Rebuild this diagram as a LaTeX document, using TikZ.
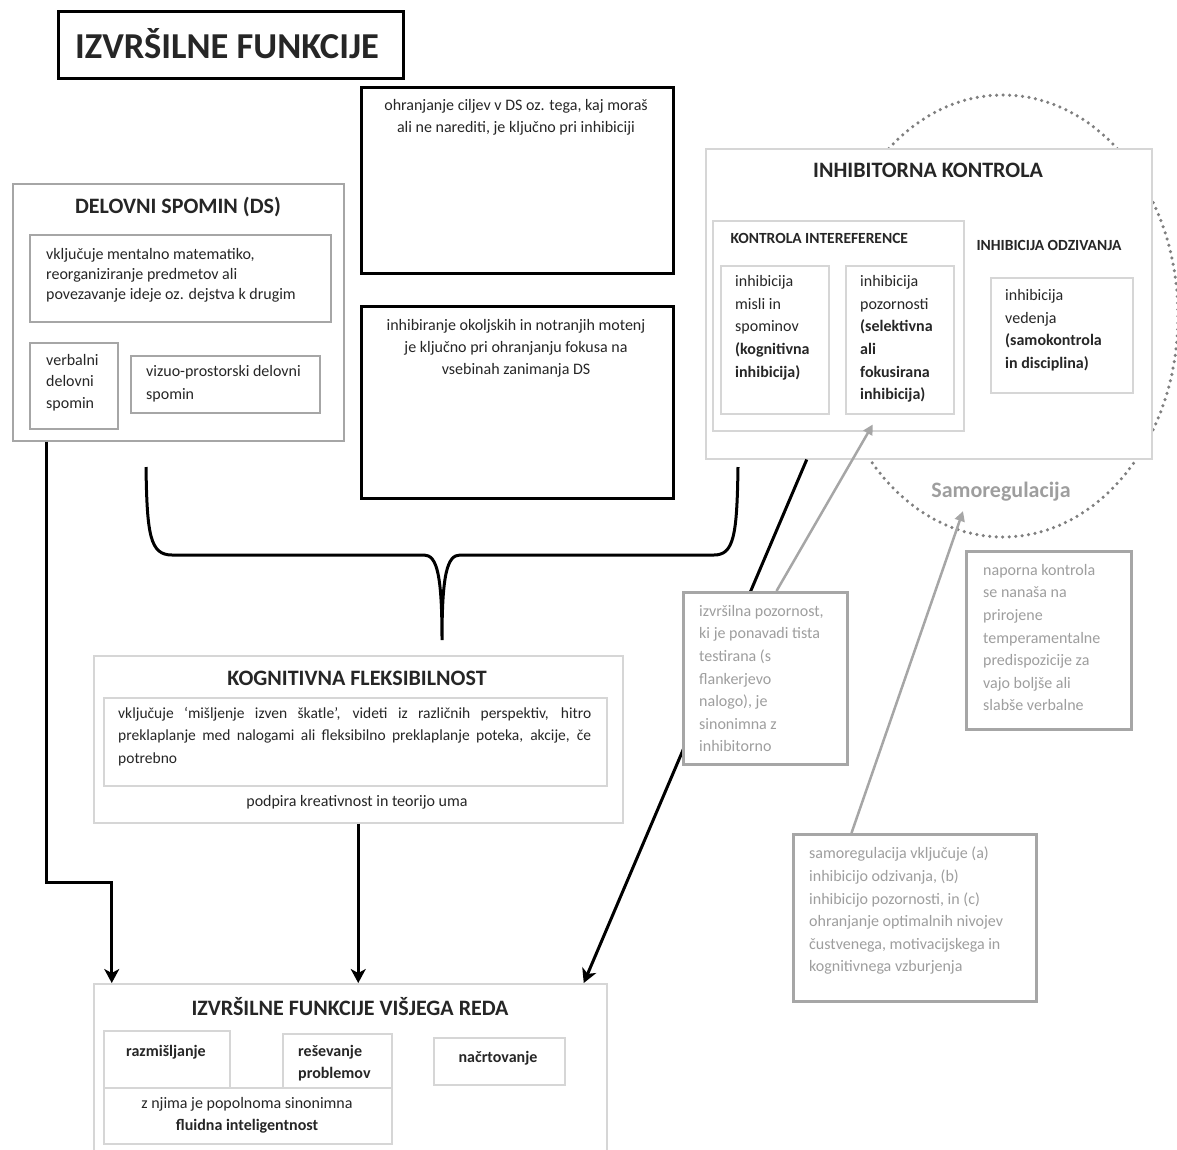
\documentclass[tikz,border=0pt]{standalone}
\usepackage{fontspec}
\setmainfont{Carlito}
\usetikzlibrary{arrows.meta,positioning,calc}

\definecolor{ink}{HTML}{262626}
\definecolor{faint}{HTML}{D6D6D6}
\definecolor{mid}{HTML}{A6A6A6}
\definecolor{note}{HTML}{9E9E9E}
\definecolor{dotgrey}{HTML}{7F7F7F}

\newcommand{\fsz}[2]{\fontsize{#1}{#2}\selectfont}

\tikzset{
  frame/.style={draw=black,line width=3pt,fill=white,inner sep=0pt,anchor=north west},
  pale/.style={draw=faint,line width=1.5pt,fill=white,inner sep=0pt,anchor=north west},
  grey/.style={draw=mid,line width=1.5pt,fill=white,inner sep=0pt,anchor=north west},
  notebox/.style={draw=mid,line width=3pt,fill=white,inner sep=0pt,anchor=north west},
  heading/.style={font=\bfseries\fsz{22}{26},text=ink},
  subheading/.style={font=\bfseries\fsz{15.5}{18},text=ink},
  txt/.style={inner sep=0pt,anchor=north west,align=left,text=ink,font=\fsz{16}{22}},
  flow/.style={-{Stealth[length=14pt,width=15pt,inset=4pt]},line width=3pt},
  greyflow/.style={-{Triangle[length=10pt,width=10pt]},line width=2.5pt,draw=mid},
  dots/.style={draw=dotgrey,line width=3.5pt,line cap=round,dash pattern=on 0pt off 6.5pt}
}

\begin{document}
\begin{tikzpicture}[x=1pt,y=-1pt]
\useasboundingbox (0,0) rectangle (1177,1149);

% Samoregulacija
\draw[dots] (1003,316) ellipse (175pt and 221pt);
\node[font=\bfseries\fsz{22}{26},text=note] (sr) at (1001,492) {Samoregulacija};

% Inhibitorna kontrola
\node[pale,minimum width=446,minimum height=310] (ik) at (705,148) {};
\node[heading] (ik-naslov) at (928,170) {INHIBITORNA KONTROLA};

\node[pale,minimum width=251,minimum height=210] (ki) at (712,220) {};
\node[subheading,anchor=west] (ki-naslov) at (727,238) {KONTROLA INTEREFERENCE};
\node[pale,minimum width=108,minimum height=148] (ki-misli) at (720,265) {};
\node[txt,font=\fsz{16}{22.7}] (ki-misli-t) at (735,275)
  {inhibicija\\misli in\\spominov\\\textbf{(kognitivna}\\\textbf{inhibicija)}};
\node[pale,minimum width=108,minimum height=148] (ki-poz) at (845,265) {};
\node[txt,font=\fsz{16}{22.7}] (ki-poz-t) at (860,275)
  {inhibicija\\pozornosti\\\textbf{(selektivna}\\\textbf{ali}\\\textbf{fokusirana}\\\textbf{inhibicija)}};

\node[subheading] (io-naslov) at (1049,245) {INHIBICIJA ODZIVANJA};
\node[pale,minimum width=142,minimum height=115] (io) at (990,277) {};
\node[txt,font=\fsz{16}{22.7}] (io-t) at (1005,289)
  {inhibicija\\vedenja\\\textbf{(samokontrola}\\\textbf{in disciplina)}};

% Naslov
\node[frame,minimum width=345,minimum height=67] (naslov) at (57,10) {};
\node[font=\bfseries\fsz{36.5}{40},text=ink] (naslov-t) at (227,44) {IZVRŠILNE FUNKCIJE};

% Delovni spomin
\node[grey,minimum width=331,minimum height=257] (ds) at (12,183) {};
\node[heading] (ds-naslov) at (178,207) {DELOVNI SPOMIN (DS)};
\node[grey,minimum width=301,minimum height=87] (ds-mat) at (29,234) {};
\node[txt,font=\fsz{16}{20}] (ds-mat-t) at (46,248)
  {vključuje mentalno matematiko,\\reorganiziranje predmetov ali\\povezavanje ideje oz. dejstva k drugim};
\node[grey,minimum width=88,minimum height=86] (ds-verb) at (29,342) {};
\node[txt,font=\fsz{16}{21.5}] (ds-verb-t) at (46,354) {verbalni\\delovni\\spomin};
\node[grey,minimum width=189,minimum height=57] (ds-viz) at (130,355) {};
\node[txt,font=\fsz{16}{23}] (ds-viz-t) at (146,365) {vizuo-prostorski delovni\\spomin};

% DS in inhibicija
\node[frame,minimum width=312,minimum height=186] (cilji) at (360,86) {};
\node[txt,align=center,anchor=north] (cilji-t) at (516,99)
  {ohranjanje ciljev v DS oz. tega, kaj moraš\\ali ne narediti, je ključno pri inhibiciji};
\node[frame,minimum width=312,minimum height=192] (motnje) at (360,305) {};
\node[txt,align=center,anchor=north] (motnje-t) at (516,319)
  {inhibiranje okoljskih in notranjih motenj\\je ključno pri ohranjanju fokusa na\\vsebinah zanimanja DS};

% zaviti oklepaj
\draw[line width=3pt] (146,467) .. controls (147,535) and (150,555) .. (172,555) -- (424,555)
  .. controls (437,555) and (442,575) .. (442,640)
  .. controls (442,575) and (447,555) .. (460,555) -- (714,555)
  .. controls (734,555) and (737,535) .. (738,467);

% Kognitivna fleksibilnost
\node[pale,minimum width=529,minimum height=167] (kf) at (93,655) {};
\node[heading] (kf-naslov) at (357,678) {KOGNITIVNA FLEKSIBILNOST};
\node[pale,minimum width=503,minimum height=88] (kf-opis) at (103,697) {};
\node[txt,text width=473,align=justify,font=\fsz{15.5}{22.5}] (kf-opis-t) at (118,707)
  {vključuje `mišljenje izven škatle', videti iz različnih perspektiv, hitro\linebreak
   preklaplanje med nalogami ali fleksibilno preklaplanje poteka, akcije, če\linebreak
   potrebno};
\node[txt,anchor=center] (kf-uma) at (357,802) {podpira kreativnost in teorijo uma};

% Izvrsilne funkcije visjega reda
\node[pale,minimum width=513,minimum height=180] (visji) at (93,983) {};
\node[heading] (visji-naslov) at (350,1007) {IZVRŠILNE FUNKCIJE VIŠJEGA REDA};
\node[pale,minimum width=126,minimum height=57] (razm) at (103,1030) {};
\node[txt,anchor=center,font=\bfseries\fsz{16}{22}] (razm-t) at (166,1052) {razmišljanje};
\node[pale,minimum width=109,minimum height=54] (resev) at (282,1033) {};
\node[txt,font=\bfseries\fsz{16}{22}] (resev-t) at (298,1045) {reševanje\\problemov};
\node[pale,minimum width=131,minimum height=47] (nacrt) at (433,1037) {};
\node[txt,anchor=center,font=\bfseries\fsz{16}{22}] (nacrt-t) at (498,1058) {načrtovanje};
\node[pale,minimum width=288,minimum height=56] (fluid) at (103,1087) {};
\node[txt,align=center,anchor=north] (fluid-t) at (247,1097)
  {z njima je popolnoma sinonimna\\\textbf{fluidna inteligentnost}};

% povezave
\draw[flow] ([xshift=-131.5pt]ds.south) -- ++(0,441) -| ([xshift=-238.5pt]visji.north);
\draw[flow] (kf.south) -- (kf.south |- visji.north);
\draw[flow] ([xshift=-122pt]ik.south) -- ([xshift=233.5pt]visji.north);

% opombe
\node[notebox,minimum width=164,minimum height=172] (izvr) at (682,591) {};
\node[txt,text=note,font=\fsz{16}{22.6}] (izvr-t) at (699,605)
  {izvršilna pozornost,\\ki je ponavadi tista\\testirana (s\\flankerjevo\\nalogo), je\\sinonimna z\\inhibitorno};
\node[notebox,minimum width=165,minimum height=178] (napor) at (965,550) {};
\node[txt,text=note,font=\fsz{16}{22.6}] (napor-t) at (983,564)
  {naporna kontrola\\se nanaša na\\prirojene\\temperamentalne\\predispozicije za\\vajo boljše ali\\slabše verbalne};
\node[notebox,minimum width=243,minimum height=167] (samoreg) at (792,833) {};
\node[txt,text=note,font=\fsz{16}{22.6}] (samoreg-t) at (809,847)
  {samoregulacija vključuje (a)\\inhibicijo odzivanja, (b)\\inhibicijo pozornosti, in (c)\\ohranjanje optimalnih nivojev\\čustvenega, motivacijskega in\\kognitivnega vzburjenja};
\draw[greyflow] ([xshift=11pt]izvr.north) -- ([xshift=-27pt,yshift=-10pt]ki-poz.south);
\draw[greyflow] ([xshift=-63.5pt]samoreg.north) -- ([xshift=-38pt,yshift=-6pt]sr.south);

\end{tikzpicture}
\end{document}
